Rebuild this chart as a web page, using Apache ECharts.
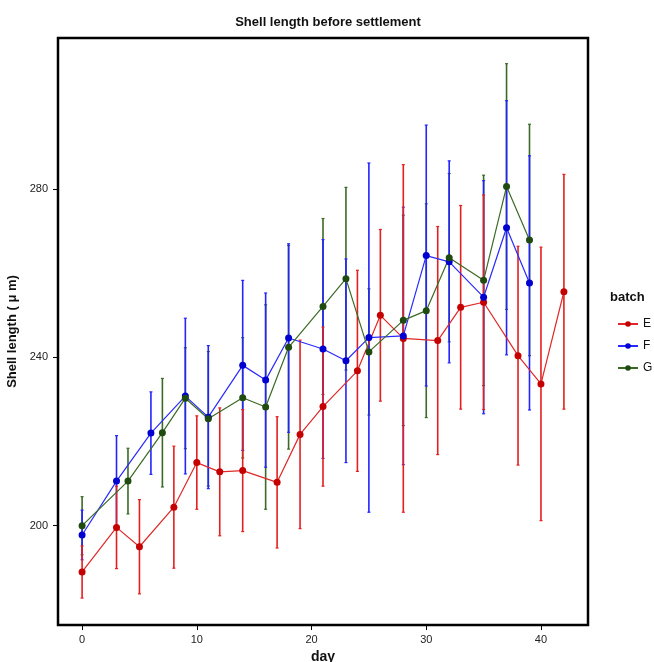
<!DOCTYPE html>
<html><head><meta charset="utf-8">
<script src="https://cdn.jsdelivr.net/npm/echarts@6/dist/echarts.min.js"></script>
<style>html,body{margin:0;padding:0;background:#fff}#c{width:654px;height:662px}</style>
</head><body><div id="c"></div>
<script>
const daysE = [0,3,5,8,10,12,14,17,19,21,24,26,28,31,33,35,38,40,42];
const meanE = [189.0,199.6,195.0,204.4,215.0,212.8,213.1,210.3,221.7,228.3,236.8,250.0,244.5,244.0,251.9,253.1,240.4,233.7,255.6];
const seE   = [6.2,9.8,11.2,14.5,11.1,15.2,14.5,15.6,22.4,18.9,23.9,20.4,41.3,27.1,24.2,25.5,26.0,32.5,27.9];

const daysF = [0,3,6,9,11,14,16,18,21,23,25,28,30,32,35,37,39];
const meanF = [197.8,210.6,222.0,230.8,225.8,238.1,234.6,244.6,242.0,239.2,244.7,245.1,264.2,262.7,254.3,270.8,257.7];
const seF   = [5.9,10.8,9.8,18.5,17.0,20.2,20.7,22.4,26.0,24.2,41.5,30.6,31.0,24.0,27.7,30.2,30.2];

const daysG = [0,4,7,9,11,14,16,18,21,23,25,28,30,32,35,37,39];
const meanG = [200.0,210.6,222.1,230.3,225.4,230.4,228.2,242.4,252.1,258.7,241.3,248.8,251.1,263.7,258.3,280.6,267.9];
const seG   = [6.9,7.8,12.9,12.0,16.0,14.3,24.3,24.2,20.9,21.7,15.0,25.0,25.4,20.0,25.0,29.2,27.5];

const xTicks = [0,10,20,30,40];
const yTicks = [200,240,280];

const FONT = 'Liberation Sans, Arial, sans-serif';

function errSeries(name, days, mean, se, color, z) {
  return {
    type: 'custom', name: name + '_err', z: z, silent: true,
    data: days.map((d, i) => [d, mean[i] - se[i], mean[i] + se[i]]),
    encode: { x: 0, y: [1, 2] },
    renderItem: function (params, api) {
      const x = api.value(0), lo = api.value(1), hi = api.value(2);
      const p1 = api.coord([x, lo]), p2 = api.coord([x, hi]);
      const c = 1.5;
      return { type: 'group', children: [
        { type: 'line', shape: { x1: p1[0], y1: p1[1], x2: p2[0], y2: p2[1] }, style: { stroke: color, lineWidth: 1.6 } },
        { type: 'line', shape: { x1: p1[0] - c, y1: p1[1], x2: p1[0] + c, y2: p1[1] }, style: { stroke: color, lineWidth: 1.2 } },
        { type: 'line', shape: { x1: p2[0] - c, y1: p2[1], x2: p2[0] + c, y2: p2[1] }, style: { stroke: color, lineWidth: 1.2 } }
      ]};
    }
  };
}

function lineSeries(name, days, mean, lineColor, ptColor) {
  return {
    type: 'line', name: name, z: 10,
    data: days.map((d, i) => [d, mean[i]]),
    symbol: 'circle', symbolSize: 7,
    lineStyle: { color: lineColor, width: 1.2 },
    itemStyle: { color: ptColor, borderWidth: 0 },
    emphasis: { disabled: true }
  };
}

const chart = echarts.init(document.getElementById('c'), null, { renderer: 'canvas' });
chart.setOption({
  animation: false,
  backgroundColor: '#fff',
  title: {
    text: 'Shell length before settlement', left: 323, top: 11, textAlign: 'center',
    textStyle: { fontFamily: FONT, fontSize: 13, fontWeight: 'bold', color: '#111' }
  },
  grid: { left: 58, right: 66, top: 38, bottom: 37, outerBoundsMode: 'none', containLabel: false,
          show: true, borderColor: '#000', borderWidth: 2.5, backgroundColor: '#fff' },
  xAxis: {
    type: 'value', min: -2.1, max: 44.1,
    splitLine: { show: false },
    axisLine: { show: false, onZero: false },
    axisTick: { show: true, customValues: xTicks, length: 5, lineStyle: { color: '#000', width: 1 } },
    axisLabel: { customValues: xTicks, color: '#222', fontFamily: FONT, fontSize: 11, margin: 9 },
    name: 'day', nameLocation: 'middle', nameGap: 23,
    nameTextStyle: { fontFamily: FONT, fontSize: 14, fontWeight: 'bold', color: '#111' }
  },
  yAxis: {
    type: 'value', min: 176.4, max: 315.9,
    splitLine: { show: false },
    axisLine: { show: false, onZero: false },
    axisTick: { show: true, customValues: yTicks, length: 5, lineStyle: { color: '#000', width: 1 } },
    axisLabel: { customValues: yTicks, color: '#222', fontFamily: FONT, fontSize: 11, margin: 10 },
    name: 'Shell length ( \u03bc m)', nameLocation: 'middle', nameGap: 28,
    nameTextStyle: { fontFamily: FONT, fontSize: 13, fontWeight: 'bold', color: '#111' }
  },
  legend: {
    data: ['E', 'F', 'G'], orient: 'vertical', left: 612, top: 313,
    itemWidth: 20, itemHeight: 7, itemGap: 10,
    textStyle: { fontFamily: FONT, fontSize: 12, color: '#111' },
    selectedMode: false
  },
  graphic: [{
    type: 'text', left: 610, top: 291,
    style: { text: 'batch', font: 'bold 13px ' + FONT, fill: '#111' }
  }],
  series: [
    errSeries('G', daysG, meanG, seG, '#3b6a26', 2),
    errSeries('F', daysF, meanF, seF, '#2323ff', 3),
    errSeries('E', daysE, meanE, seE, '#e41f1f', 4),
    lineSeries('E', daysE, meanE, '#e02828', '#c40000'),
    lineSeries('F', daysF, meanF, '#2a2aff', '#0000d0'),
    lineSeries('G', daysG, meanG, '#3b6a26', '#1f4a10')
  ]
});
</script>
</body></html>
